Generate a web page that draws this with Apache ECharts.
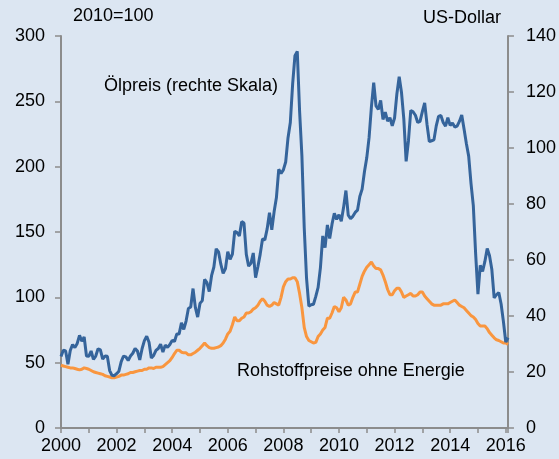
<!DOCTYPE html>
<html>
<head>
<meta charset="utf-8">
<title>Ölpreis und Rohstoffpreise</title>
<script src="https://cdn.jsdelivr.net/npm/echarts@6/dist/echarts.min.js"></script>
<style>
    html, body { margin: 0; padding: 0; background: #dce6f2; }
    #chart { width: 559px; height: 459px; }
</style>
</head>
<body>
<div id="chart"></div>
<script>

// Monatswerte ab Januar 2000
var startYear = 2000;

// Ölpreis (Brent), US-Dollar je Barrel, rechte Skala
var oilPrice = [
    25.5, 27.8, 27.5, 22.8, 27.7, 29.8, 28.7, 30.2, 33.1, 31.0, 32.5, 25.7,   // 2000
    25.6, 27.5, 24.5, 25.7, 28.3, 27.9, 24.6, 25.7, 25.6, 20.5, 18.8, 18.7,   // 2001
    19.4, 20.3, 23.7, 25.7, 25.4, 24.1, 25.7, 26.7, 28.4, 27.5, 24.3, 28.3,   // 2002
    31.2, 32.8, 30.6, 25.0, 25.9, 27.7, 28.4, 29.9, 27.1, 29.6, 28.8, 29.8,   // 2003
    31.3, 30.9, 33.6, 33.6, 37.6, 35.2, 38.2, 42.7, 43.2, 49.8, 43.1, 39.6,   // 2004
    44.5, 45.5, 53.1, 51.9, 48.7, 54.4, 57.5, 64.0, 62.9, 58.5, 55.2, 56.9,   // 2005
    63.0, 60.2, 62.1, 70.3, 69.8, 68.6, 73.7, 73.2, 62.0, 57.8, 58.8, 62.5,   // 2006
    53.7, 57.6, 62.1, 67.5, 67.2, 71.1, 76.9, 70.8, 77.2, 82.3, 92.4, 90.9,   // 2007
    92.2, 95.0, 103.6, 109.1, 122.8, 133.0, 134.5, 113.2, 97.2, 71.6, 53.5, 43.5, // 2008
    44.0, 44.2, 47.0, 50.2, 57.3, 68.6, 64.4, 72.5, 67.7, 72.8, 76.7, 74.5,   // 2009
    76.2, 73.8, 78.8, 84.8, 76.0, 74.8, 75.6, 77.0, 77.8, 82.7, 85.3, 91.5,   // 2010
    96.5, 103.7, 114.6, 123.3, 115.0, 113.8, 117.0, 110.2, 112.8, 109.6, 110.8, 107.9, // 2011
    110.7, 119.3, 125.5, 119.8, 110.3, 95.2, 102.6, 113.4, 112.9, 111.7, 109.1, 109.5, // 2012
    113.0, 116.1, 108.5, 102.3, 102.6, 102.9, 107.9, 111.3, 111.6, 109.1, 107.8, 110.8, // 2013
    108.1, 108.9, 107.5, 107.8, 109.5, 111.8, 106.8, 101.6, 97.1, 87.4, 79.4, 62.3, // 2014
    47.8, 58.1, 55.9, 59.5, 64.1, 61.5, 56.6, 46.5, 47.6, 48.4, 44.3, 38.0,   // 2015
    30.7, 32.2                                                                // 2016
];

// Rohstoffpreise ohne Energie, 2010=100, linke Skala
var nonEnergy = [
    48, 47.5, 47, 46.5, 46, 46, 45.5, 45, 44.5, 45, 46, 45.5,                 // 2000
    45, 44, 43, 42.5, 42, 41.5, 41, 40, 39.5, 39, 38.5, 38.5,                 // 2001
    39, 39.5, 40.5, 40.5, 41, 41.5, 42.5, 42.5, 43, 43.5, 44, 44,             // 2002
    45, 45, 46, 46, 45.5, 46.5, 46.5, 46.5, 47, 48.5, 50, 51.5,               // 2003
    54, 57, 59.5, 59.5, 58, 57.5, 57.5, 56, 56, 57, 58, 59.5,                 // 2004
    61, 63, 65, 63, 61.5, 61, 61, 61.5, 62, 63, 65, 68,                       // 2005
    72, 74, 79, 85, 82, 82, 84, 85, 88, 88, 89, 91,                           // 2006
    92, 94, 97, 99, 97, 94, 93, 94, 96, 95, 94, 100,                          // 2007
    108, 112, 114, 114, 115, 115, 112, 103, 92, 77, 70, 67,                   // 2008
    66, 65, 65.5, 70, 72, 75, 77, 84, 84, 88, 93, 92,                         // 2009
    89, 92, 100, 98, 94, 95, 100, 104, 104, 110, 116, 120,                    // 2010
    123, 125, 127, 124, 122, 122, 121, 117, 112, 106, 102, 102,               // 2011
    105, 107, 107, 104, 100, 101, 102, 103, 101, 101, 102, 104,               // 2012
    104, 101, 99, 97, 95, 94, 94, 94, 94, 95, 95, 95,                         // 2013
    96, 97, 98, 96, 94, 93, 92, 90, 88, 86, 85, 83,                           // 2014
    80, 78, 78, 78, 76, 73, 71, 69, 67.5, 67, 66, 65,                         // 2015
    65, 64                                                                    // 2016
];

var leftTicks = { min: 0, max: 300, step: 50 };
var rightTicks = { min: 0, max: 140, step: 20 };

var axisGray = '#8c8c8c';
var fontName = 'Liberation Sans, Arial, sans-serif';

// Monatsindex -> Jahreszahl (Januar = volle Jahreszahl)
function toSeries(values) {
    var out = [];
    for (var i = 0; i < values.length; i++) {
        out.push([startYear + i / 12, values[i]]);
    }
    return out;
}

function axisStyle() {
    return {
        axisLine: { show: true, lineStyle: { color: axisGray, width: 2 } },
        axisTick: { show: true, length: 6, lineStyle: { color: axisGray, width: 1.5 } },
        splitLine: { show: false }
    };
}

var chart = echarts.init(document.getElementById('chart'));

var xAxis = Object.assign(axisStyle(), {
    type: 'value',
    min: 2000,
    max: 2016.08,
    interval: 1,
    axisLabel: {
        color: '#000',
        fontSize: 18,
        fontFamily: fontName,
        margin: 9,
        formatter: function (v) {
            // nur gerade Jahre beschriften
            if (Math.abs(v - Math.round(v)) > 0.001) return '';
            return Math.round(v) % 2 === 0 ? String(Math.round(v)) : '';
        }
    }
});
xAxis.axisTick.length = 5;

var yLeft = Object.assign(axisStyle(), {
    type: 'value',
    position: 'left',
    min: leftTicks.min,
    max: leftTicks.max,
    interval: leftTicks.step,
    axisLabel: { color: '#000', fontSize: 18, fontFamily: fontName, margin: 16 }
});

var yRight = Object.assign(axisStyle(), {
    type: 'value',
    position: 'right',
    min: rightTicks.min,
    max: rightTicks.max,
    interval: rightTicks.step,
    axisLabel: { color: '#000', fontSize: 18, fontFamily: fontName, margin: 18 }
});

chart.setOption({
    backgroundColor: '#dce6f2',
    animation: false,
    grid: { left: 61, right: 49, top: 36, bottom: 31 },
    xAxis: xAxis,
    yAxis: [yLeft, yRight],
    series: [
        {
            name: 'Rohstoffpreise ohne Energie',
            type: 'line',
            yAxisIndex: 0,
            showSymbol: false,
            lineStyle: { color: '#f9963f', width: 3 },
            data: toSeries(nonEnergy)
        },
        {
            name: 'Ölpreis (rechte Skala)',
            type: 'line',
            yAxisIndex: 1,
            showSymbol: false,
            lineStyle: { color: '#35649b', width: 3 },
            data: toSeries(oilPrice)
        }
    ],
    graphic: [
        { type: 'text', left: 73, top: 7, style: { text: '2010=100', fontSize: 18, fontFamily: fontName, fill: '#000' } },
        { type: 'text', left: 423, top: 9, style: { text: 'US-Dollar', fontSize: 18, fontFamily: fontName, fill: '#000' } },
        { type: 'text', left: 104, top: 77, style: { text: 'Ölpreis (rechte Skala)', fontSize: 18, fontFamily: fontName, fill: '#000' } },
        { type: 'text', left: 237, top: 362, style: { text: 'Rohstoffpreise ohne Energie', fontSize: 18, fontFamily: fontName, fill: '#000' } }
    ]
});

</script>
</body>
</html>
